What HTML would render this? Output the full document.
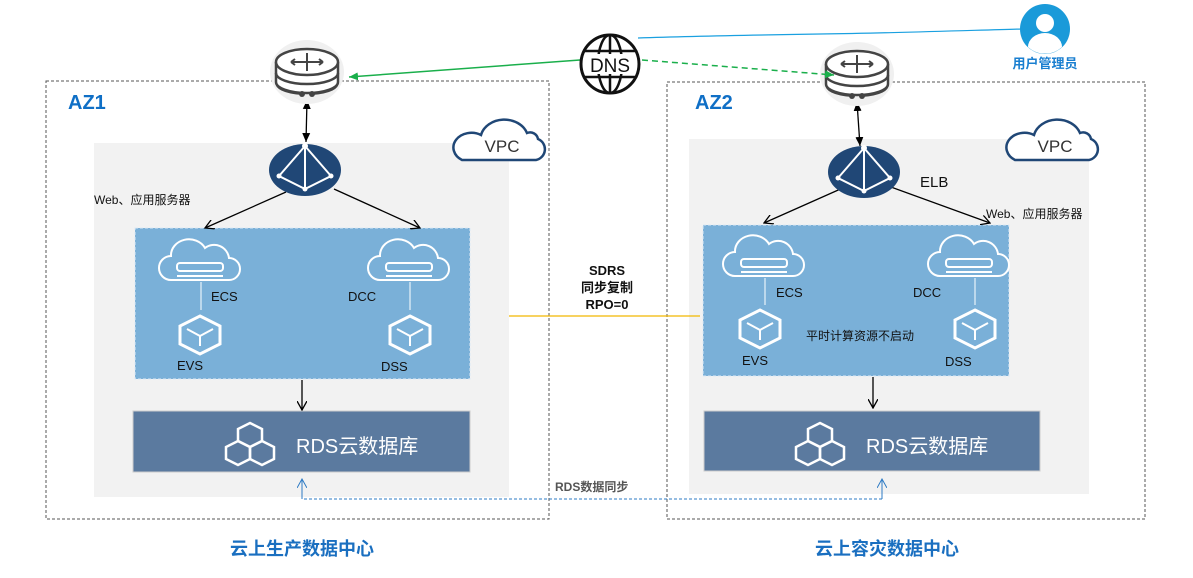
<!DOCTYPE html>
<html><head><meta charset="utf-8"><style>
html,body{margin:0;padding:0;background:#fff}
svg{display:block}
text{font-family:"Liberation Sans","Noto Sans CJK SC",sans-serif}
</style></head><body>
<svg width="1193" height="578" viewBox="0 0 1193 578" xmlns="http://www.w3.org/2000/svg">
<defs>
<marker id="ab" markerWidth="10" markerHeight="10" refX="9" refY="5" orient="auto" markerUnits="userSpaceOnUse"><path d="M0,0 L9,5 L0,10" fill="none" stroke="#000" stroke-width="1.3"/></marker>
<marker id="af" markerWidth="10" markerHeight="10" refX="9" refY="5" orient="auto-start-reverse" markerUnits="userSpaceOnUse"><path d="M0,1 L9,5 L0,9 z" fill="#000"/></marker>
<marker id="ag" markerWidth="10" markerHeight="10" refX="9" refY="5" orient="auto" markerUnits="userSpaceOnUse"><path d="M0,1 L9,5 L0,9 z" fill="#1aaf4b"/></marker>
<marker id="abl" markerWidth="10" markerHeight="10" refX="9" refY="5" orient="auto" markerUnits="userSpaceOnUse"><path d="M0,0 L9,5 L0,10" fill="none" stroke="#2e7bc4" stroke-width="1"/></marker>
<g id="router">
<ellipse cx="0" cy="2" rx="37" ry="32" fill="#f0f0f0"/>
<path d="M-31,-8 v20 a31,11 0 0 0 62,0 v-20" fill="#fff" stroke="#444" stroke-width="2.5"/>
<ellipse cx="0" cy="-8" rx="31" ry="13" fill="#fff" stroke="#444" stroke-width="2.5"/>
<path d="M-31,3 a31,11 0 0 0 62,0" fill="none" stroke="#444" stroke-width="2.5"/>
<path d="M-16,-8 h32 M0,-17 v18 M-16,-8 l4,-3 M-16,-8 l4,3 M16,-8 l-4,-3 M16,-8 l-4,3" stroke="#444" stroke-width="2"/>
<path d="M-31,12 q0,10 26,12 M31,12 q0,10 -26,12" fill="none" stroke="#444" stroke-width="2"/>
<circle cx="-5" cy="24" r="3" fill="#444"/><circle cx="5" cy="24" r="3" fill="#444"/>
</g>
<g id="elb">
<ellipse cx="0" cy="0" rx="36" ry="26" fill="#204776"/>
<path d="M0,-24 L-26,6 L0,19 L26,6 Z M0,-24 V19" fill="none" stroke="#fff" stroke-width="2"/>
<circle cx="0" cy="-24" r="3" fill="#fff"/><circle cx="-26" cy="6" r="2.5" fill="#fff"/><circle cx="26" cy="6" r="2.5" fill="#fff"/><circle cx="0" cy="19" r="2.5" fill="#fff"/>
</g>
<g id="vpc">
<path d="M-38,15 h74 a11,11 0 0 0 2,-21 a8,8 0 0 0 -11,-6 a24,20 0 0 0 -46,2 a16,13 0 0 0 -19,25 z" fill="#fff" stroke="#204776" stroke-width="2.5"/>
<text x="2" y="7" font-size="17" fill="#333" text-anchor="middle">VPC</text>
</g>
<g id="ecs">
<path d="M-30,12 h58 a11,11 0 0 0 0,-22 a15,15 0 0 0 -24,-10 a18,16 0 0 0 -34,8 a12,12 0 0 0 0,24 z" fill="none" stroke="#fff" stroke-width="2"/>
<rect x="-24" y="-5" width="46" height="8" rx="3" fill="none" stroke="#fff" stroke-width="2"/>
<path d="M-24,8 h46" stroke="#fff" stroke-width="2"/>
</g>
<g id="cube">
<path d="M0,-18 L20,-8 V10 L0,20 L-20,10 V-8 Z" fill="none" stroke="#fff" stroke-width="3"/>
<path d="M-13,-5 L0,2 L13,-5 M0,2 V12" fill="none" stroke="#fff" stroke-width="2"/>
</g>
<g id="hex" fill="none" stroke="#fff" stroke-width="2.5">
<path d="M0,-20 l12,6 v12 l-12,6 l-12,-6 v-12 z"/>
<path d="M-12,-2 l12,6 v12 l-12,6 l-12,-6 v-12 z"/>
<path d="M12,-2 l12,6 v12 l-12,6 l-12,-6 v-12 z"/>
</g>
</defs>

<rect x="46" y="81" width="503" height="438" fill="none" stroke="#555" stroke-width="1" stroke-dasharray="3,2"/>
<rect x="667" y="82" width="478" height="437" fill="none" stroke="#555" stroke-width="1" stroke-dasharray="3,2"/>
<text x="68" y="109" font-size="20" font-weight="bold" fill="#0f6fc6">AZ1</text>
<text x="695" y="109" font-size="20" font-weight="bold" fill="#0f6fc6">AZ2</text>

<rect x="94" y="143" width="415" height="354" fill="#f2f2f2"/>
<rect x="689" y="139" width="400" height="355" fill="#f2f2f2"/>

<use href="#vpc" x="500" y="145"/>
<use href="#vpc" x="1053" y="145"/>

<rect x="135" y="228" width="335" height="151" fill="#7ab0d8" stroke="#dce9f5" stroke-dasharray="3,2"/>
<rect x="703" y="225" width="306" height="151" fill="#7ab0d8" stroke="#dce9f5" stroke-dasharray="3,2"/>

<rect x="133" y="411" width="337" height="61" fill="#5b7a9f" stroke="#ccc"/>
<rect x="704" y="411" width="336" height="60" fill="#5b7a9f" stroke="#ccc"/>
<use href="#hex" x="250" y="443"/>
<use href="#hex" x="820" y="443"/>
<text x="296" y="453" font-size="20" fill="#fff">RDS云数据库</text>
<text x="866" y="453" font-size="20" fill="#fff">RDS云数据库</text>

<use href="#ecs" x="201" y="268"/><use href="#ecs" x="410" y="268"/>
<use href="#ecs" x="765" y="264"/><use href="#ecs" x="970" y="264"/>
<path d="M201,282 V310 M410,282 V310 M765,278 V305 M975,278 V305" stroke="#fff" stroke-width="1"/>
<use href="#cube" x="200" y="334"/><use href="#cube" x="410" y="334"/>
<use href="#cube" x="760" y="328"/><use href="#cube" x="975" y="328"/>
<g font-size="13" fill="#111">
<text x="211" y="301">ECS</text><text x="348" y="301">DCC</text>
<text x="177" y="370">EVS</text><text x="381" y="371">DSS</text>
<text x="776" y="297">ECS</text><text x="913" y="297">DCC</text>
<text x="742" y="365">EVS</text><text x="945" y="366">DSS</text>
<text x="806" y="340" font-size="12">平时计算资源不启动</text>
<text x="94" y="204" font-size="12">Web、应用服务器</text>
<text x="986" y="218" font-size="12">Web、应用服务器</text>
<text x="920" y="187" font-size="15">ELB</text>
</g>

<path d="M286,192 L205,228" stroke="#000" stroke-width="1.3" marker-end="url(#ab)"/>
<path d="M334,189 L420,228" stroke="#000" stroke-width="1.3" marker-end="url(#ab)"/>
<path d="M845,187 L764,223" stroke="#000" stroke-width="1.3" marker-end="url(#ab)"/>
<path d="M888,186 L990,223" stroke="#000" stroke-width="1.3" marker-end="url(#ab)"/>
<path d="M302,380 L302,410" stroke="#000" stroke-width="1.3" marker-end="url(#ab)"/>
<path d="M873,377 L873,408" stroke="#000" stroke-width="1.3" marker-end="url(#ab)"/>
<path d="M307,100 L306,142" stroke="#000" stroke-width="1.3" marker-start="url(#af)" marker-end="url(#af)"/>
<path d="M857,102 L860,146" stroke="#000" stroke-width="1.3" marker-start="url(#af)" marker-end="url(#af)"/>

<use href="#elb" x="305" y="170"/>
<use href="#elb" x="864" y="172"/>
<use href="#router" x="307" y="70"/>
<use href="#router" x="857" y="72"/>

<path d="M580,60 L349,77" stroke="#1aaf4b" stroke-width="1.5" marker-end="url(#ag)"/>
<path d="M642,60 L834,75" stroke="#1aaf4b" stroke-width="1.5" stroke-dasharray="6,4" marker-end="url(#ag)"/>
<path d="M638,38 C700,36 760,35 820,34 C900,33 980,30 1022,29" stroke="#1aa0e0" stroke-width="1.2" fill="none"/>

<g transform="translate(610,64)">
<circle r="29" fill="#fff" stroke="#111" stroke-width="3"/>
<ellipse rx="12" ry="29" fill="none" stroke="#111" stroke-width="2.5"/>
<path d="M0,-29 V29 M-26,-13 H26 M-26,13 H26" stroke="#111" stroke-width="2.5"/>
<rect x="-22" y="-10" width="44" height="20" fill="#fff"/>
<text x="0" y="8" font-size="19" text-anchor="middle" fill="#111">DNS</text>
</g>

<g transform="translate(1045,29)">
<circle r="25" fill="#1a9ad9"/>
<circle cy="-6" r="9" fill="#fff"/>
<path d="M-17,18 a17,14 0 0 1 34,0 a25,25 0 0 1 -34,0z" fill="#fff"/>
</g>
<text x="1045" y="68" font-size="13" font-weight="bold" fill="#1a7fd0" text-anchor="middle">用户管理员</text>

<path d="M509,316 H700" stroke="#f2b800" stroke-width="1.3"/>
<g font-size="13" font-weight="bold" fill="#111" text-anchor="middle">
<text x="607" y="275">SDRS</text><text x="607" y="292">同步复制</text><text x="607" y="309">RPO=0</text>
</g>

<path d="M302,481 V499 H882 V481" fill="none" stroke="#2e7bc4" stroke-width="1" stroke-dasharray="3,2"/>
<path d="M302,499 V479" stroke="#2e7bc4" marker-end="url(#abl)"/>
<path d="M882,499 V479" stroke="#2e7bc4" marker-end="url(#abl)"/>
<text x="555" y="491" font-size="12" font-weight="bold" fill="#555">RDS数据同步</text>

<text x="302" y="555" font-size="18" font-weight="bold" fill="#1a6fc0" text-anchor="middle">云上生产数据中心</text>
<text x="887" y="555" font-size="18" font-weight="bold" fill="#1a6fc0" text-anchor="middle">云上容灾数据中心</text>
</svg>
</body></html>
